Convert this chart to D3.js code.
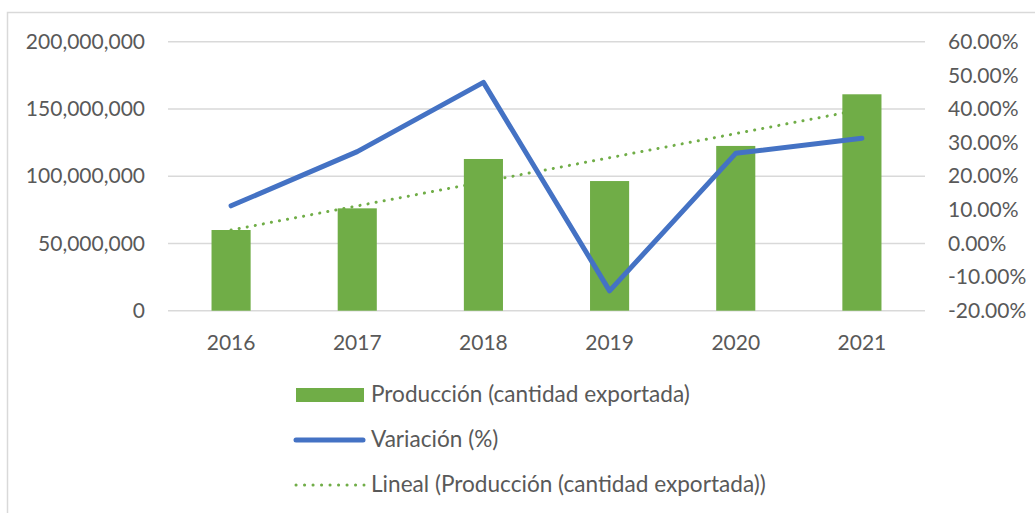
<!DOCTYPE html>
<html>
<head>
<meta charset="utf-8">
<script src="https://cdnjs.cloudflare.com/ajax/libs/d3/7.8.5/d3.min.js"></script>
<style>
  html, body { margin: 0; padding: 0; background: #fff; }
  svg text { font-family: Lato, "Open Sans", sans-serif; fill: #595959; }
</style>
</head>
<body>
<div id="chart"></div>
<script>
// data
var years = ['2016', '2017', '2018', '2019', '2020', '2021'];
var produccion = [60000000, 76100000, 112800000, 96400000, 122500000, 160900000];
var variacion = [0.112, 0.273, 0.479, -0.141, 0.268, 0.313];
var leftTicks = [0, 50000000, 100000000, 150000000, 200000000];
var rightTicks = [-0.2, -0.1, 0, 0.1, 0.2, 0.3, 0.4, 0.5, 0.6];
var legendLabels = ['Producción (cantidad exportada)', 'Variación (%)', 'Lineal (Producción (cantidad exportada))'];

var W = 1035, H = 513;
var green = '#70AD47', blue = '#4472C4', grid = '#d9d9d9';
var fontSize = 21;

var svg = d3.select('#chart')
  .append('svg')
    .attr('width', W)
    .attr('height', H);

// chart area border
svg.append('rect')
  .attr('x', 7.5).attr('y', 12.5)
  .attr('width', W + 10).attr('height', H + 10)
  .attr('fill', '#fff')
  .attr('stroke', grid)
  .attr('stroke-width', 1.5);

var plot = { left: 168, right: 925, top: 41.7, bottom: 310.7 };

var x = d3.scaleBand()
  .domain(years)
  .range([plot.left, plot.right])
  .paddingInner(0.69)
  .paddingOuter(0.345);

var yL = d3.scaleLinear().domain([0, 200000000]).range([plot.bottom, plot.top]);
var yR = d3.scaleLinear().domain([-0.2, 0.6]).range([plot.bottom, plot.top]);

// gridlines
svg.append('g')
  .selectAll('line')
  .data(leftTicks)
  .enter()
  .append('line')
    .attr('x1', plot.left).attr('x2', plot.right)
    .attr('y1', d => yL(d)).attr('y2', d => yL(d))
    .attr('stroke', grid)
    .attr('stroke-width', 1.4);

// linear trendline of the bar series (least squares, like Excel's "Lineal")
var idx = years.map((d, i) => i + 1);
var mx = d3.mean(idx), my = d3.mean(produccion);
var slope = d3.sum(idx, (d, i) => (d - mx) * (produccion[i] - my)) / d3.sum(idx, d => (d - mx) * (d - mx));
var icpt = my - slope * mx;
var trend = [years[0], years[years.length - 1]].map(function (yr) {
  var k = years.indexOf(yr) + 1;
  return { year: yr, v: icpt + slope * k };
});

svg.append('path')
  .datum(trend)
  .attr('fill', 'none')
  .attr('stroke', green)
  .attr('stroke-width', 3)
  .attr('stroke-linecap', 'round')
  .attr('stroke-dasharray', '0.1 8.1')
  .attr('d', d3.line()
    .x(d => x(d.year) + x.bandwidth() / 2)
    .y(d => yL(d.v)));

// bars
svg.append('g')
  .selectAll('rect')
  .data(produccion)
  .enter()
  .append('rect')
    .attr('x', (d, i) => x(years[i]))
    .attr('y', d => yL(d))
    .attr('width', x.bandwidth())
    .attr('height', d => yL(0) - yL(d))
    .attr('fill', green);

// variation line
svg.append('path')
  .datum(variacion)
  .attr('fill', 'none')
  .attr('stroke', blue)
  .attr('stroke-width', 5)
  .attr('stroke-linecap', 'round')
  .attr('stroke-linejoin', 'round')
  .attr('d', d3.line()
    .x((d, i) => x(years[i]) + x.bandwidth() / 2)
    .y(d => yR(d)));

// axes
var pct = d => (d * 100).toFixed(2) + '%';
var axL = svg.append('g')
  .attr('transform', 'translate(' + plot.left + ',0)')
  .call(d3.axisLeft(yL).tickValues(leftTicks).tickSize(0).tickPadding(23).tickFormat(d3.format(',')));
var axR = svg.append('g')
  .attr('transform', 'translate(' + plot.right + ',0)')
  .call(d3.axisRight(yR).tickValues(rightTicks).tickSize(0).tickPadding(23).tickFormat(pct));
var axB = svg.append('g')
  .attr('transform', 'translate(0,' + plot.bottom + ')')
  .call(d3.axisBottom(x).tickSize(0).tickPadding(24));

[axL, axR, axB].forEach(function (g) {
  g.select('.domain').remove();
  g.selectAll('text')
    .attr('font-size', fontSize)
    .style('font-family', 'Lato, "Open Sans", sans-serif')
    .attr('fill', '#595959');
});

// legend
var legend = svg.append('g');
var rows = legend.selectAll('g')
  .data(legendLabels)
  .enter()
  .append('g')
    .attr('transform', (d, i) => 'translate(0,' + (402.3 + i * 45) + ')');

rows.append('text')
  .attr('x', 371)
  .attr('y', 0)
  .attr('font-size', 22.6)
  .text(d => d);

rows.filter((d, i) => i === 0).append('rect')
  .attr('x', 296).attr('y', -14.3)
  .attr('width', 68).attr('height', 14)
  .attr('fill', green);

rows.filter((d, i) => i === 1).append('line')
  .attr('x1', 296).attr('x2', 363)
  .attr('y1', -7.3).attr('y2', -7.3)
  .attr('stroke', blue)
  .attr('stroke-width', 5)
  .attr('stroke-linecap', 'round');

rows.filter((d, i) => i === 2).append('line')
  .attr('x1', 296).attr('x2', 364)
  .attr('y1', -7.3).attr('y2', -7.3)
  .attr('stroke', green)
  .attr('stroke-width', 3)
  .attr('stroke-linecap', 'round')
  .attr('stroke-dasharray', '0.1 8.4');
</script>
</body>
</html>
